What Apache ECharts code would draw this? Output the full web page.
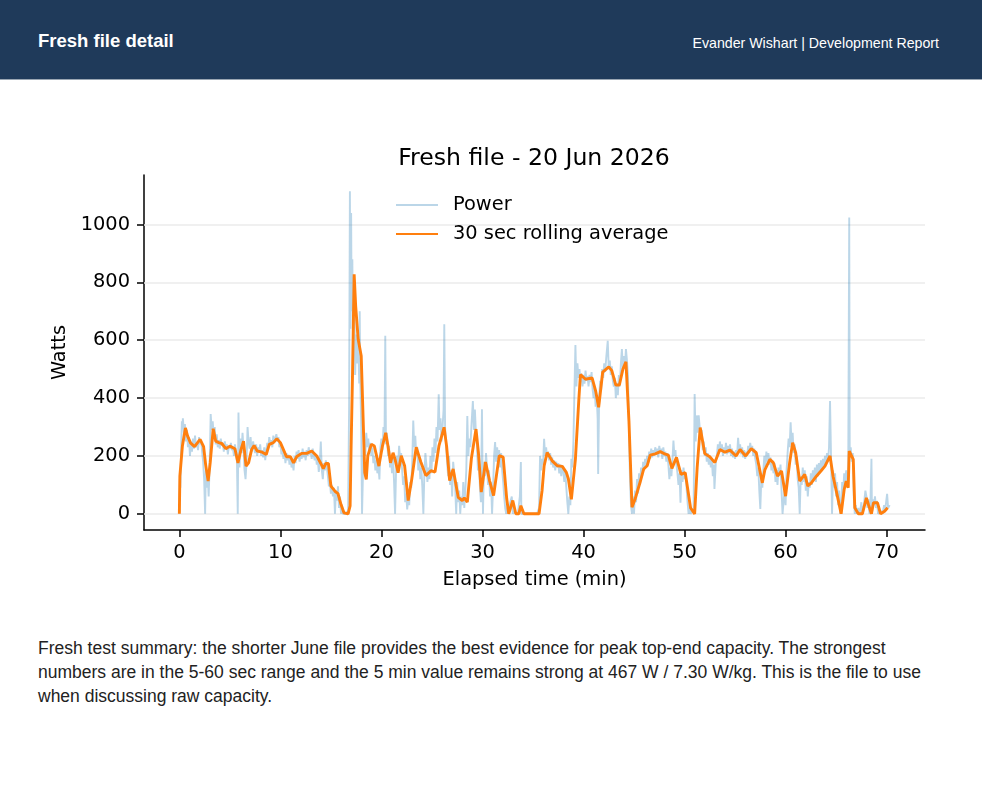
<!DOCTYPE html>
<html lang="en">
<head>
    <meta charset="UTF-8">
    <title>Fresh file detail</title>
    <script src="https://cdn.jsdelivr.net/npm/echarts@6.0.0/dist/echarts.min.js"></script>
    <style>
        body {
            margin: 0;
            width: 982px;
            height: 788px;
            background: #fff;
            position: relative;
            overflow: hidden;
            font-family: "Liberation Sans", Arial, Helvetica, sans-serif;
        }
        .header {
            position: absolute;
            left: 0; top: 0;
            width: 982px;
            height: 79px;
            background: #1f3a5a;
            border-bottom: 1px solid #9aa6b3;
            color: #fff;
        }
        .header .left {
            position: absolute;
            left: 38px; top: 30px;
            font-size: 18.5px;
            font-weight: bold;
        }
        .header .right {
            position: absolute;
            right: 43px; top: 35px;
            font-size: 14.2px;
        }
        #chart {
            position: absolute;
            left: 0; top: 90px;
            width: 982px;
            height: 530px;
        }
        .summary {
            position: absolute;
            left: 38px; top: 636px;
            width: 900px;
            margin: 0;
            font-size: 17.5px;
            line-height: 24px;
            color: #222;
        }
    </style>
</head>
<body>

    <div class="header">
        <div class="left">Fresh file detail</div>
        <div class="right">Evander Wishart | Development Report</div>
    </div>

    <div id="chart"></div>

    <p class="summary">Fresh test summary: the shorter June file provides the best evidence for peak top-end capacity. The strongest numbers are in the 5-60 sec range and the 5 min value remains strong at 467 W / 7.30 W/kg. This is the file to use when discussing raw capacity.</p>

    <script>
        const xTicks = [0, 10, 20, 30, 40, 50, 60, 70];
        const yTicks = [0, 200, 400, 600, 800, 1000];

        // raw power, [elapsed min, watts]
        const power = [
            [0.0, 0], [0.05, 120], [0.1, 90], [0.15, 180], [0.2, 260], [0.25, 320], [0.3, 300], [0.35, 330],
            [0.45, 280], [0.55, 310], [0.65, 250], [0.75, 290], [0.85, 230], [0.95, 265], [1.05, 200], [1.15, 250],
            [1.25, 215], [1.35, 260], [1.45, 225], [1.55, 270], [1.65, 230], [1.75, 245], [1.85, 220], [1.95, 265],
            [2.05, 240], [2.15, 255], [2.25, 215], [2.35, 180], [2.45, 120], [2.55, 0], [2.62, 150], [2.7, 90],
            [2.8, 140], [2.9, 60], [3.0, 170], [3.1, 345], [3.2, 290], [3.3, 320], [3.4, 270], [3.5, 300],
            [3.6, 240], [3.7, 275], [3.8, 230], [3.9, 255], [4.0, 225], [4.1, 260], [4.2, 235], [4.3, 245],
            [4.4, 215], [4.5, 250], [4.6, 225], [4.7, 240], [4.8, 205], [4.9, 235], [5.0, 225], [5.1, 245],
            [5.2, 220], [5.3, 230], [5.4, 200], [5.5, 240], [5.6, 215], [5.7, 180], [5.78, 0], [5.85, 350],
            [5.95, 160], [6.05, 260], [6.15, 210], [6.25, 280], [6.35, 230], [6.45, 150], [6.55, 120], [6.65, 180],
            [6.75, 300], [6.85, 250], [6.95, 225], [7.05, 265], [7.15, 215], [7.3, 250], [7.4, 225], [7.5, 210],
            [7.6, 240], [7.7, 200], [7.8, 230], [7.9, 215], [8.0, 240], [8.1, 200], [8.2, 220], [8.3, 195],
            [8.4, 230], [8.5, 185], [8.6, 220], [8.7, 245], [8.8, 230], [8.9, 265], [9.0, 240], [9.1, 255],
            [9.2, 230], [9.3, 270], [9.4, 245], [9.5, 260], [9.6, 275], [9.7, 250], [9.8, 265], [9.9, 230],
            [10.0, 245], [10.1, 205], [10.2, 225], [10.3, 190], [10.4, 215], [10.5, 175], [10.6, 210], [10.7, 185],
            [10.8, 205], [10.9, 170], [11.0, 195], [11.1, 160], [11.2, 185], [11.3, 150], [11.4, 200], [11.5, 175],
            [11.6, 215], [11.7, 190], [11.8, 220], [11.9, 180], [12.0, 210], [12.1, 190], [12.2, 225], [12.3, 195],
            [12.4, 215], [12.5, 185], [12.6, 220], [12.7, 200], [12.8, 230], [12.9, 205], [13.0, 215], [13.1, 190],
            [13.2, 225], [13.3, 200], [13.4, 185], [13.5, 205], [13.6, 170], [13.7, 190], [13.8, 145], [13.9, 180],
            [14.0, 250], [14.1, 150], [14.2, 120], [14.3, 175], [14.4, 150], [14.5, 185], [14.6, 160], [14.7, 130],
            [14.8, 95], [14.9, 110], [15.0, 70], [15.1, 100], [15.2, 60], [15.3, 90], [15.4, 0], [15.5, 80],
            [15.6, 45], [15.7, 95], [15.8, 20], [15.9, 60], [16.0, 0], [16.1, 30], [16.2, 0], [16.4, 0],
            [16.55, 0], [16.7, 10], [16.8, 370], [16.88, 1115], [16.93, 640], [17.0, 1040], [17.05, 700], [17.12, 880],
            [17.2, 560], [17.3, 810], [17.4, 480], [17.5, 620], [17.6, 520], [17.7, 600], [17.8, 450], [17.85, 700],
            [17.9, 480], [18.0, 300], [18.08, 0], [18.2, 180], [18.3, 250], [18.4, 200], [18.5, 280], [18.6, 230],
            [18.7, 260], [18.8, 210], [18.9, 245], [19.0, 200], [19.1, 230], [19.2, 175], [19.3, 200], [19.4, 150],
            [19.5, 185], [19.6, 140], [19.7, 170], [19.8, 119], [19.9, 230], [20.0, 260], [20.1, 220], [20.2, 300],
            [20.3, 250], [20.38, 615], [20.45, 240], [20.55, 280], [20.65, 200], [20.75, 235], [20.85, 160], [20.95, 190],
            [21.05, 140], [21.15, 200], [21.25, 110], [21.35, 0], [21.45, 150], [21.55, 200], [21.65, 170], [21.75, 235],
            [21.85, 190], [21.95, 210], [22.05, 150], [22.15, 100], [22.25, 130], [22.35, 40], [22.45, 70], [22.55, 15],
            [22.65, 50], [22.75, 30], [22.85, 110], [22.95, 90], [23.05, 180], [23.15, 322], [23.25, 230], [23.35, 270],
            [23.45, 200], [23.55, 230], [23.65, 150], [23.75, 190], [23.85, 120], [23.95, 160], [24.05, 90], [24.15, 0],
            [24.25, 140], [24.35, 210], [24.45, 170], [24.55, 110], [24.65, 160], [24.75, 120], [24.85, 200], [24.95, 140],
            [25.05, 230], [25.15, 180], [25.25, 260], [25.35, 210], [25.45, 300], [25.55, 250], [25.67, 413], [25.75, 290],
            [25.85, 330], [25.95, 250], [26.05, 300], [26.15, 360], [26.22, 655], [26.3, 300], [26.4, 240], [26.5, 180],
            [26.6, 130], [26.7, 200], [26.8, 100], [26.9, 150], [27.0, 60], [27.1, 180], [27.2, 140], [27.3, 90],
            [27.4, 0], [27.5, 110], [27.6, 40], [27.7, 80], [27.8, 0], [27.9, 60], [28.0, 30], [28.1, 110],
            [28.2, 20], [28.3, 80], [28.4, 150], [28.5, 338], [28.6, 200], [28.7, 260], [28.8, 230], [28.9, 300],
            [29.05, 390], [29.15, 290], [29.25, 360], [29.35, 280], [29.45, 240], [29.55, 150], [29.65, 200], [29.75, 90],
            [29.85, 40], [29.95, 361], [30.05, 0], [30.15, 180], [30.25, 130], [30.35, 210], [30.45, 160], [30.55, 100],
            [30.65, 150], [30.75, 60], [30.85, 110], [30.95, 0], [31.05, 90], [31.15, 200], [31.25, 248], [31.35, 180],
            [31.45, 230], [31.55, 190], [31.65, 220], [31.75, 160], [31.85, 210], [31.95, 150], [32.05, 110], [32.15, 60],
            [32.25, 20], [32.35, 0], [32.5, 30], [32.6, 0], [32.75, 40], [32.9, 60], [33.0, 0], [33.15, 10],
            [33.3, 0], [33.5, 0], [33.7, 60], [33.8, 179], [33.85, 0], [34.0, 0], [34.3, 0], [34.6, 0],
            [35.0, 0], [35.4, 0], [35.6, 20], [35.7, 200], [35.8, 150], [35.9, 190], [36.0, 170], [36.1, 259],
            [36.2, 200], [36.3, 230], [36.4, 195], [36.5, 215], [36.6, 185], [36.7, 210], [36.8, 170], [36.9, 195],
            [37.0, 160], [37.1, 185], [37.2, 150], [37.3, 180], [37.4, 160], [37.5, 175], [37.6, 140], [37.7, 170],
            [37.8, 130], [37.9, 165], [38.0, 150], [38.1, 110], [38.2, 145], [38.3, 90], [38.4, 40], [38.5, 0],
            [38.6, 60], [38.7, 30], [38.8, 190], [38.9, 160], [39.0, 250], [39.1, 420], [39.2, 583], [39.3, 440],
            [39.4, 520], [39.5, 470], [39.6, 500], [39.7, 455], [39.8, 485], [39.9, 440], [40.0, 480], [40.1, 450],
            [40.2, 495], [40.3, 460], [40.4, 475], [40.5, 440], [40.6, 480], [40.7, 455], [40.8, 490], [40.9, 430],
            [41.0, 400], [41.1, 440], [41.2, 370], [41.3, 410], [41.4, 330], [41.45, 138], [41.55, 400], [41.65, 460],
            [41.75, 430], [41.85, 500], [41.95, 470], [42.05, 520], [42.15, 490], [42.25, 540], [42.4, 598], [42.5, 500],
            [42.6, 530], [42.7, 480], [42.8, 510], [42.9, 460], [43.0, 440], [43.1, 470], [43.2, 400], [43.3, 450],
            [43.4, 410], [43.5, 480], [43.6, 440], [43.7, 520], [43.8, 569], [43.9, 500], [44.0, 545], [44.1, 510],
            [44.2, 569], [44.3, 530], [44.4, 480], [44.5, 300], [44.6, 120], [44.7, 30], [44.8, 0], [44.9, 60],
            [45.0, 0], [45.1, 80], [45.2, 40], [45.3, 120], [45.4, 70], [45.5, 140], [45.6, 100], [45.7, 160],
            [45.8, 130], [45.9, 180], [46.0, 150], [46.1, 190], [46.2, 160], [46.3, 200], [46.4, 175], [46.5, 215],
            [46.6, 190], [46.7, 225], [46.8, 195], [46.9, 220], [47.0, 200], [47.1, 230], [47.2, 205], [47.3, 225],
            [47.4, 195], [47.5, 235], [47.6, 210], [47.7, 225], [47.8, 190], [47.9, 230], [48.0, 200], [48.1, 215],
            [48.2, 180], [48.3, 210], [48.4, 170], [48.5, 120], [48.6, 160], [48.7, 130], [48.8, 180], [48.9, 253],
            [49.0, 200], [49.1, 220], [49.2, 170], [49.3, 140], [49.4, 100], [49.5, 140], [49.6, 38], [49.7, 150],
            [49.8, 110], [49.9, 160], [50.0, 120], [50.1, 140], [50.2, 90], [50.3, 40], [50.4, 0], [50.5, 20],
            [50.6, 0], [50.75, 0], [50.9, 20], [51.0, 414], [51.1, 250], [51.2, 340], [51.3, 280], [51.4, 340],
            [51.5, 300], [51.6, 260], [51.7, 290], [51.8, 220], [51.9, 250], [52.0, 200], [52.1, 230], [52.2, 180],
            [52.3, 210], [52.4, 170], [52.5, 200], [52.6, 160], [52.7, 190], [52.8, 130], [52.9, 170], [52.96, 86],
            [53.1, 180], [53.2, 200], [53.3, 240], [53.4, 210], [53.5, 250], [53.6, 220], [53.7, 240], [53.8, 200],
            [53.9, 230], [54.0, 210], [54.1, 245], [54.2, 205], [54.3, 235], [54.4, 210], [54.5, 240], [54.6, 200],
            [54.7, 225], [54.8, 195], [54.9, 215], [55.0, 190], [55.1, 220], [55.2, 200], [55.3, 263], [55.4, 220],
            [55.5, 240], [55.6, 205], [55.7, 230], [55.8, 195], [55.9, 220], [56.0, 190], [56.1, 215], [56.2, 200],
            [56.3, 235], [56.4, 210], [56.5, 245], [56.6, 220], [56.7, 235], [56.8, 200], [56.9, 225], [57.0, 190],
            [57.1, 170], [57.2, 130], [57.3, 160], [57.4, 80], [57.5, 17], [57.6, 120], [57.7, 90], [57.8, 150],
            [57.9, 200], [58.0, 160], [58.1, 215], [58.2, 180], [58.3, 210], [58.4, 170], [58.5, 195], [58.6, 150],
            [58.7, 185], [58.8, 140], [58.9, 175], [59.0, 110], [59.1, 150], [59.2, 100], [59.3, 160], [59.4, 130],
            [59.5, 170], [59.6, 80], [59.7, 0], [59.8, 40], [59.9, 90], [60.0, 30], [60.1, 150], [60.2, 210],
            [60.3, 260], [60.4, 230], [60.5, 316], [60.6, 240], [60.7, 280], [60.8, 210], [60.9, 240], [61.0, 170],
            [61.1, 200], [61.2, 120], [61.3, 90], [61.4, 0], [61.5, 130], [61.6, 100], [61.7, 160], [61.8, 110],
            [61.9, 150], [62.0, 80], [62.1, 130], [62.2, 60], [62.3, 110], [62.4, 90], [62.5, 140], [62.6, 100],
            [62.7, 150], [62.8, 120], [62.9, 160], [63.0, 110], [63.1, 170], [63.2, 130], [63.3, 175], [63.4, 140],
            [63.5, 185], [63.6, 150], [63.7, 190], [63.8, 160], [63.9, 200], [64.0, 170], [64.1, 210], [64.2, 180],
            [64.3, 230], [64.4, 390], [64.5, 200], [64.6, 0], [64.7, 150], [64.8, 90], [64.9, 140], [65.0, 60],
            [65.1, 110], [65.2, 30], [65.3, 80], [65.4, 0], [65.5, 20], [65.6, 110], [65.7, 70], [65.8, 140],
            [65.9, 100], [66.0, 150], [66.1, 90], [66.2, 130], [66.3, 1024], [66.35, 200], [66.45, 230], [66.55, 180],
            [66.65, 210], [66.75, 60], [66.85, 0], [66.95, 30], [67.05, 0], [67.2, 20], [67.35, 0], [67.5, 40],
            [67.6, 0], [67.75, 30], [67.9, 80], [68.0, 60], [68.1, 20], [68.2, 50], [68.3, 0], [68.4, 40],
            [68.5, 190], [68.55, 0], [68.65, 50], [68.75, 30], [68.85, 60], [68.95, 20], [69.05, 45], [69.15, 0],
            [69.3, 0], [69.45, 10], [69.6, 0], [69.75, 30], [69.85, 10], [69.95, 40], [70.05, 69], [70.15, 20],
            [70.3, 30]
        ];

        // 30 sec rolling average, [elapsed min, watts]
        const rolling = [
            [0.0, 0], [0.05, 130], [0.15, 125], [0.3, 234], [0.6, 297], [0.8, 270], [1.1, 245], [1.5, 232],
            [2.05, 257], [2.4, 232], [2.6, 170], [2.85, 113], [3.05, 176], [3.35, 294], [3.6, 251], [3.9, 246],
            [4.2, 243], [4.6, 225], [5.0, 234], [5.5, 225], [5.8, 176], [6.1, 222], [6.35, 251], [6.6, 165],
            [6.85, 176], [7.15, 222], [7.4, 236], [7.7, 217], [8.2, 213], [8.6, 205], [8.9, 240], [9.3, 246],
            [9.65, 259], [10.0, 246], [10.3, 222], [10.6, 197], [11.0, 197], [11.3, 176], [11.6, 197], [12.1, 209],
            [12.6, 209], [13.1, 217], [13.6, 200], [14.0, 174], [14.25, 156], [14.5, 174], [14.75, 174], [15.0, 96],
            [15.4, 78], [15.7, 70], [16.0, 32], [16.3, 3], [16.7, 0], [16.9, 27], [17.0, 234], [17.13, 465],
            [17.3, 828], [17.45, 718], [17.7, 603], [18.0, 545], [18.17, 349], [18.35, 142], [18.5, 119], [18.65, 200],
            [19.0, 240], [19.3, 234], [19.75, 165], [20.1, 234], [20.42, 280], [20.65, 234], [20.9, 176], [21.15, 211],
            [21.35, 188], [21.65, 142], [21.96, 201], [22.3, 165], [22.65, 46], [23.0, 119], [23.44, 230], [23.9, 179],
            [24.4, 132], [24.9, 149], [25.3, 144], [25.7, 236], [26.2, 299], [26.45, 234], [26.75, 115], [27.1, 155],
            [27.6, 57], [28.0, 46], [28.2, 55], [28.5, 40], [28.9, 190], [29.36, 293], [29.6, 211], [29.88, 75],
            [30.3, 179], [30.7, 115], [31.1, 63], [31.66, 201], [32.05, 196], [32.4, 52], [32.6, 0], [33.0, 46],
            [33.3, 0], [33.6, 0], [33.8, 28], [34.1, 0], [35.6, 0], [35.9, 80], [36.1, 165], [36.4, 212],
            [36.9, 183], [37.4, 166], [37.9, 164], [38.3, 143], [38.5, 121], [38.8, 50], [39.2, 189], [39.55, 402],
            [39.7, 481], [40.2, 465], [40.85, 470], [41.2, 425], [41.5, 368], [41.9, 490], [42.5, 508], [42.8, 495],
            [43.2, 445], [43.55, 445], [43.9, 500], [44.2, 525], [44.5, 320], [44.8, 23], [45.1, 50], [45.6, 109],
            [45.96, 155], [46.3, 166], [46.6, 203], [47.1, 207], [47.6, 215], [48.1, 206], [48.4, 203], [48.75, 157],
            [49.2, 195], [49.65, 136], [50.07, 142], [50.6, 20], [51.0, 0], [51.25, 160], [51.55, 298], [52.0, 208],
            [52.5, 197], [53.0, 177], [53.5, 222], [54.0, 213], [54.5, 220], [55.1, 200], [55.5, 222], [56.05, 200],
            [56.6, 225], [57.1, 211], [57.7, 107], [57.96, 153], [58.45, 188], [58.8, 176], [59.2, 130], [59.6, 148],
            [60.0, 61], [60.4, 176], [60.7, 246], [61.0, 211], [61.4, 113], [61.9, 136], [62.2, 96], [62.55, 107],
            [63.05, 130], [63.5, 148], [63.9, 165], [64.4, 200], [64.7, 130], [65.2, 50], [65.5, 0], [65.8, 84],
            [66.0, 113], [66.2, 90], [66.3, 217], [66.7, 188], [66.85, 21], [67.2, 0], [67.6, 0], [68.0, 55],
            [68.2, 32], [68.5, 0], [68.7, 38], [69.1, 38], [69.4, 0], [69.8, 9], [70.1, 21]
        ];

        const font = 'DejaVu Sans';
        const chart = echarts.init(document.getElementById('chart'));

        const option = {
            animation: false,
            title: {
                text: 'Fresh file - 20 Jun 2026',
                left: 534,
                top: 55,
                padding: 0,
                textAlign: 'center',
                textStyle: { fontFamily: font, fontSize: 23.6, fontWeight: 'normal', color: '#000', lineHeight: 28 }
            },
            legend: {
                orient: 'vertical',
                left: 395,
                top: 103,
                padding: 0,
                itemWidth: 42,
                itemHeight: 14,
                itemGap: 5,
                itemStyle: { opacity: 0 },
                textStyle: { fontFamily: font, fontSize: 19.4, color: '#000', lineHeight: 24, padding: [0, 0, 0, 10] },
                data: ['Power', '30 sec rolling average']
            },
            grid: { left: 144, right: 57, top: 85, bottom: 90 },
            xAxis: {
                type: 'value',
                min: -3.5,
                max: 73.8,
                name: 'Elapsed time (min)',
                nameLocation: 'middle',
                nameGap: 40,
                nameTextStyle: { fontFamily: font, fontSize: 19.4, color: '#000' },
                axisLine: { show: true, onZero: false, lineStyle: { color: '#000', width: 1.5 } },
                axisTick: { show: true, length: 7, lineStyle: { color: '#000', width: 1.5 }, customValues: xTicks },
                axisLabel: { fontFamily: font, fontSize: 19.4, color: '#000', margin: 13, customValues: xTicks },
                splitLine: { show: false }
            },
            yAxis: {
                type: 'value',
                min: -56,
                max: 1171,
                name: 'Watts',
                nameLocation: 'middle',
                nameRotate: 90,
                nameGap: 64,
                nameTextStyle: { fontFamily: font, fontSize: 19.4, color: '#000' },
                axisLine: { show: true, onZero: false, lineStyle: { color: '#000', width: 1.5 } },
                axisTick: { show: true, length: 7, lineStyle: { color: '#000', width: 1.5 }, customValues: yTicks },
                axisLabel: {
                    fontFamily: font, fontSize: 19.4, color: '#000', margin: 14, customValues: yTicks,
                    formatter: v => String(v)
                },
                splitLine: { show: false }
            },
            series: [
                {
                    name: 'Power',
                    type: 'line',
                    data: power,
                    symbol: 'none',
                    z: 2,
                    lineStyle: { color: 'rgba(31,119,180,0.3)', width: 1.9 },
                    itemStyle: { color: 'rgba(31,119,180,0.3)' },
                    markLine: {
                        silent: true,
                        symbol: 'none',
                        z: 1,
                        label: { show: false },
                        lineStyle: { color: '#ebebeb', width: 1.5, type: 'solid' },
                        data: yTicks.map(v => ({ yAxis: v }))
                    }
                },
                {
                    name: '30 sec rolling average',
                    type: 'line',
                    data: rolling,
                    symbol: 'none',
                    z: 3,
                    lineStyle: { color: '#ff7f0e', width: 2.9 },
                    itemStyle: { color: '#ff7f0e' }
                }
            ]
        };

        chart.setOption(option);
    </script>

</body>
</html>
